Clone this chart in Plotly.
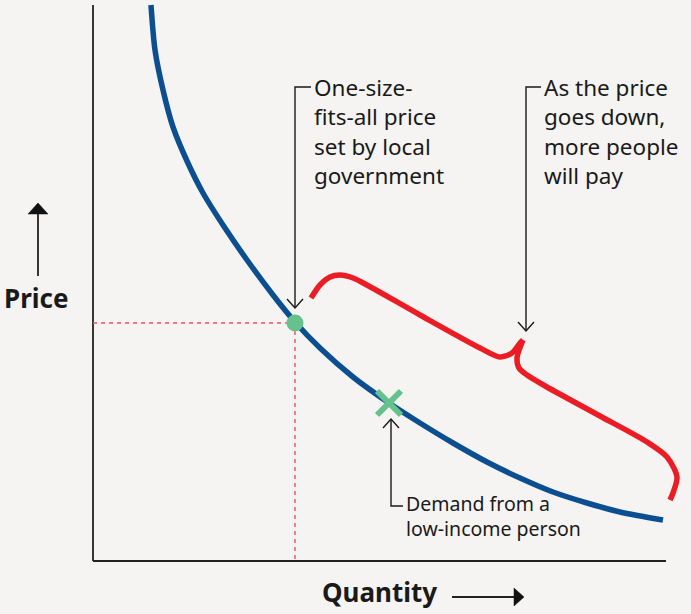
import plotly.graph_objects as go

W, H = 691, 614
BG = "#f5f4f2"
BLUE = "#0b4f91"
RED = "#ec1c24"
GREEN = "#66c28d"
INK = "#1a1a1a"
FONT = "Noto Sans"

# Demand curve (pixel-space coordinates)
demand_x = [151, 155, 163, 173, 187, 203, 223, 247, 273, 295, 320, 353, 389, 420, 453, 487, 520, 553, 587, 620, 663]
demand_y = [5, 50, 90, 127, 161, 193, 225, 260, 295, 322, 348, 377, 403, 423, 443, 462, 478, 492, 503, 512, 520]

# Curly brace (two halves meeting at the tip)
brace_a_x = [311, 320, 330, 340, 353, 367, 420, 480, 500, 512, 520, 523]
brace_a_y = [298, 285, 277, 275, 278, 285, 315, 348, 357, 353, 343, 340]
brace_b_x = [523, 517, 519, 527, 547, 600, 647, 667, 677, 673, 670]
brace_b_y = [340, 358, 368, 375, 387, 416, 442, 457, 477, 493, 500]

# Key points
price_point = (295, 323)
lowincome_point = (389, 403)
axis_origin = (93, 561)
axis_top = 5
axis_right = 666

price_set_lines = ["One-size-", "fits-all price", "set by local", "government"]
more_people_lines = ["As the price", "goes down,", "more people", "will pay"]
low_income_lines = ["Demand from a", "low-income person"]
y_title = "Price"
x_title = "Quantity"

fig = go.Figure()

def line(xs, ys, color=INK, width=1.4, dash=None):
    fig.add_trace(go.Scatter(x=xs, y=ys, mode="lines",
                             line=dict(color=color, width=width, dash=dash),
                             hoverinfo="skip", showlegend=False))

# axes
ox, oy = axis_origin
line([ox, ox], [axis_top, oy], color="#222222", width=1.8)
line([ox, axis_right], [oy, oy], color="#222222", width=1.8)

# dashed guides
px, py = price_point
line([ox, px], [py, py], color="#f0505a", width=1.4, dash="4px,4px")
line([px, px], [py, oy], color="#f0505a", width=1.4, dash="4px,4px")

# demand curve
fig.add_trace(go.Scatter(x=demand_x, y=demand_y, mode="lines",
                         line=dict(color=BLUE, width=5.5, shape="spline", smoothing=0.8),
                         hoverinfo="skip", showlegend=False))

# brace
for bx, by in [(brace_a_x, brace_a_y), (brace_b_x, brace_b_y)]:
    fig.add_trace(go.Scatter(x=bx, y=by, mode="lines",
                             line=dict(color=RED, width=5.5, shape="spline", smoothing=0.8),
                             hoverinfo="skip", showlegend=False))

# markers
fig.add_trace(go.Scatter(x=[px], y=[py], mode="markers",
                         marker=dict(color=GREEN, size=17, symbol="circle"),
                         hoverinfo="skip", showlegend=False))
lx, ly = lowincome_point
fig.add_trace(go.Scatter(x=[lx], y=[ly], mode="markers",
                         marker=dict(color=GREEN, size=24, symbol="x-thin",
                                     line=dict(color=GREEN, width=6)),
                         hoverinfo="skip", showlegend=False))

# callout lines with open V heads
def vhead(tx, ty, direction):
    s = 1 if direction == "down" else -1
    line([tx - 8, tx, tx + 8], [ty - 9 * s, ty, ty - 9 * s], width=1.4)

line([311, 295, 295], [87, 87, 308])
vhead(295, 308, "down")
line([541, 526, 526], [87, 87, 331])
vhead(526, 331, "down")
line([391, 391, 403], [419, 506, 506])
vhead(391, 419, "up")

# axis title arrows (filled)
line([38, 38], [276, 211], width=1.8, color="#222222")
fig.add_trace(go.Scatter(x=[38, 28, 48, 38], y=[203, 214, 214, 203], mode="lines", fill="toself",
                         fillcolor="#111111", line=dict(color="#111111", width=0.5),
                         hoverinfo="skip", showlegend=False))
line([452, 516], [597, 597], width=1.8, color="#222222")
fig.add_trace(go.Scatter(x=[524, 514, 514, 524], y=[597, 588, 606, 597], mode="lines", fill="toself",
                         fillcolor="#111111", line=dict(color="#111111", width=0.5),
                         hoverinfo="skip", showlegend=False))

def label(lines, x, baseline, size, bold=False):
    t = "<br>".join(lines)
    if bold:
        t = f"<b>{t}</b>"
    fig.add_annotation(x=x, y=baseline - 1.14 * size, text=t, showarrow=False,
                       xanchor="left", yanchor="top", align="left", xref="x", yref="y",
                       font=dict(family=FONT, size=size, color=INK), borderpad=0)

label(price_set_lines, 313, 97, 22.5)
label(more_people_lines, 543, 97, 22.5)
label(low_income_lines, 405, 511, 19.5)
label([y_title], 3, 309, 26, bold=True)
label([x_title], 321, 603, 26, bold=True)

fig.update_layout(
    width=W, height=H,
    margin=dict(l=0, r=0, t=0, b=0),
    paper_bgcolor=BG, plot_bgcolor=BG,
    xaxis=dict(range=[0, W], visible=False, fixedrange=True),
    yaxis=dict(range=[H, 0], visible=False, fixedrange=True),
    showlegend=False,
)

fig.write_html("out.html", config={"displayModeBar": False},
               post_script="document.body.style.margin='0';document.body.style.background='" + BG + "';")
